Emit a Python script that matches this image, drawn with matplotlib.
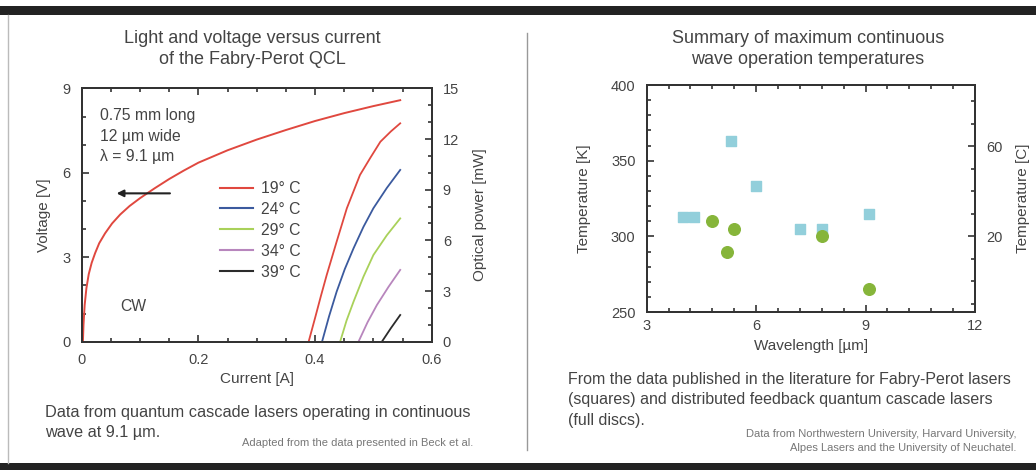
import numpy as np
import matplotlib.pyplot as plt
from matplotlib.lines import Line2D
from matplotlib.ticker import MultipleLocator, FuncFormatter

plt.rcParams['font.family'] = ['Liberation Sans', 'DejaVu Sans']

# --- left chart: voltage vs current (19 C) ---
current_v = [0.002, 0.003, 0.005, 0.008, 0.012, 0.017, 0.023, 0.030, 0.040, 0.052,
             0.066, 0.082, 0.100, 0.125, 0.150, 0.175, 0.200, 0.250, 0.300, 0.350,
             0.400, 0.450, 0.500, 0.546]
voltage = [0.0, 0.6, 1.3, 1.9, 2.4, 2.8, 3.15, 3.5, 3.85, 4.2,
           4.52, 4.82, 5.1, 5.45, 5.78, 6.08, 6.36, 6.8, 7.18, 7.52,
           7.84, 8.12, 8.37, 8.58]

# optical power curves, one per heat-sink temperature
temps = ['19° C', '24° C', '29° C', '34° C', '39° C']
colors = ['#e0483f', '#3b5a9e', '#a9d15a', '#b886bd', '#2b2b2b']
cur_19 = [0.389, 0.400, 0.410, 0.420, 0.437, 0.4545, 0.477, 0.495, 0.512, 0.530, 0.546]
pow_19 = [0.0, 1.4, 2.7, 3.95, 5.92, 7.9, 9.87, 10.9, 11.84, 12.45, 12.93]
cur_24 = [0.412, 0.424, 0.437, 0.451, 0.466, 0.483, 0.500, 0.523, 0.546]
pow_24 = [0.0, 1.5, 2.96, 4.3, 5.53, 6.8, 7.9, 9.1, 10.17]
cur_29 = [0.443, 0.454, 0.466, 0.483, 0.500, 0.523, 0.546]
pow_29 = [0.0, 1.25, 2.37, 3.85, 5.13, 6.3, 7.3]
cur_34 = [0.4745, 0.490, 0.506, 0.526, 0.546]
pow_34 = [0.0, 1.15, 2.17, 3.25, 4.25]
cur_39 = [0.5146, 0.530, 0.546]
pow_39 = [0.0, 0.8, 1.58]

# --- right chart: max CW temperatures ---
fp_wl = [4.0, 4.3, 5.3, 6.0, 7.2, 7.8, 9.1]
fp_T = [313, 313, 363, 333, 305, 305, 315]
dfb_wl = [4.8, 5.2, 5.4, 7.8, 9.1]
dfb_T = [310, 290, 305, 300, 265]

left_caption = ['Data from quantum cascade lasers operating in continuous',
                'wave at 9.1 µm.']
right_caption = ['From the data published in the literature for Fabry-Perot lasers',
                 '(squares) and distributed feedback quantum cascade lasers',
                 '(full discs).']
right_source = ['Data from Northwestern University, Harvard University,',
                'Alpes Lasers and the University of Neuchatel.']

txt = '#444444'
spine = '#333333'

fig = plt.figure(figsize=(10.36, 4.70), dpi=100)
fig.patch.set_facecolor('white')


def style_axes(ax):
    for s in ax.spines.values():
        s.set_color(spine)
        s.set_linewidth(1.4)
    ax.tick_params(which='both', direction='in', colors=spine, labelcolor=txt,
                   labelsize=10.5, width=1.2)
    ax.tick_params(which='major', length=5, pad=8)
    ax.tick_params(which='minor', length=3)


# Left plot
ax1 = fig.add_axes([0.0789, 0.273, 0.3378, 0.539])
ax1.plot(current_v, voltage, color=colors[0], lw=1.4)
ax1.set_xlim(0, 0.6)
ax1.set_ylim(0, 9)
ax1.xaxis.set_major_locator(MultipleLocator(0.2))
ax1.xaxis.set_minor_locator(MultipleLocator(0.05))
ax1.xaxis.set_major_formatter(FuncFormatter(lambda v, p: '%g' % round(v, 2)))
ax1.yaxis.set_major_locator(MultipleLocator(3))
ax1.yaxis.set_minor_locator(MultipleLocator(1))
ax1.tick_params(which='both', top=True)
style_axes(ax1)
ax1.set_xlabel('Current [A]', color=txt, fontsize=11, labelpad=4)
ax1.set_ylabel('Voltage [V]', color=txt, fontsize=11, labelpad=8)

ax1b = ax1.twinx()
for c, p, col in zip([cur_19, cur_24, cur_29, cur_34, cur_39],
                     [pow_19, pow_24, pow_29, pow_34, pow_39], colors):
    ax1b.plot(c, p, color=col, lw=1.3)
ax1b.set_ylim(0, 15)
ax1b.yaxis.set_major_locator(MultipleLocator(3))
ax1b.yaxis.set_minor_locator(MultipleLocator(1))
style_axes(ax1b)
ax1b.set_ylabel('Optical power [mW]', color=txt, fontsize=11, labelpad=10)

ax1.annotate('', xy=(0.055, 5.27), xytext=(0.156, 5.27),
             arrowprops=dict(arrowstyle='-|>', color='#222222', lw=1.5,
                             mutation_scale=10))
ax1.text(0.031, 8.05, '0.75 mm long', color=txt, fontsize=11.3, va='center')
ax1.text(0.031, 7.29, '12 µm wide', color=txt, fontsize=11.3, va='center')
ax1.text(0.031, 6.58, 'λ = 9.1 µm', color=txt, fontsize=11.3, va='center')
ax1.text(0.066, 1.24, 'CW', color=txt, fontsize=11.3, va='center')

handles = [Line2D([0], [0], color=c, lw=1.5) for c in colors]
leg = ax1b.legend(handles, temps, loc='upper left', bbox_to_anchor=(0.355, 0.69),
                  frameon=False, fontsize=11.3, handlelength=2.1, labelspacing=0.38,
                  handletextpad=0.5)
for t in leg.get_texts():
    t.set_color(txt)

fig.text(0.244, 0.895, 'Light and voltage versus current\nof the Fabry-Perot QCL',
         ha='center', va='center', color=txt, fontsize=13, linespacing=1.32)
for i, line in enumerate(left_caption):
    fig.text(0.043, 0.123 - i * 0.043, line, ha='left', va='center', color=txt,
             fontsize=11.7)
fig.text(0.457, 0.057, 'Adapted from the data presented in Beck et al.',
         ha='right', va='center', color='#777777', fontsize=8)

# Right plot
ax2 = fig.add_axes([0.6242, 0.336, 0.3169, 0.483])
ax2.scatter(fp_wl, fp_T, marker='s', s=58, color='#92cfdb', zorder=3)
ax2.scatter(dfb_wl, dfb_T, marker='o', s=70, color='#86b53a', zorder=4)
ax2.set_xlim(3, 12)
ax2.set_ylim(250, 400)
ax2.xaxis.set_major_locator(MultipleLocator(3))
ax2.xaxis.set_minor_locator(MultipleLocator(0.6))
ax2.yaxis.set_major_locator(MultipleLocator(50))
ax2.yaxis.set_minor_locator(MultipleLocator(10))
ax2.tick_params(which='both', top=True)
style_axes(ax2)
ax2.tick_params(axis='x', which='major', pad=5)
ax2.set_xlabel('Wavelength [µm]', color=txt, fontsize=11, labelpad=4)
ax2.set_ylabel('Temperature [K]', color=txt, fontsize=11, labelpad=14)

ax2b = ax2.twinx()
ax2b.set_ylim(-13.7, 87.1)
ax2b.yaxis.set_major_locator(MultipleLocator(40))
ax2b.yaxis.set_minor_locator(MultipleLocator(10))
style_axes(ax2b)
ax2b.set_yticks([20, 60])
ax2b.set_ylabel('Temperature [C]', color=txt, fontsize=11, labelpad=10)

fig.text(0.780, 0.895, 'Summary of maximum continuous\nwave operation temperatures',
         ha='center', va='center', color=txt, fontsize=13, linespacing=1.32)
for i, line in enumerate(right_caption):
    fig.text(0.548, 0.192 - i * 0.043, line, ha='left', va='center', color=txt,
             fontsize=11.5)
for i, line in enumerate(right_source):
    fig.text(0.981, 0.077 - i * 0.03, line, ha='right', va='center',
             color='#777777', fontsize=8)

# frame: dark bars top and bottom, thin left edge, divider
fig.add_artist(plt.Rectangle((0, 0.968), 1, 0.02, transform=fig.transFigure,
                             color='#222222', lw=0))
fig.add_artist(plt.Rectangle((0, 0.0), 1, 0.014, transform=fig.transFigure,
                             color='#222222', lw=0))
fig.add_artist(Line2D([0.008, 0.008], [0.014, 0.968], transform=fig.transFigure,
                      color='#bbbbbb', lw=1))
fig.add_artist(Line2D([0.5085, 0.5085], [0.043, 0.93], transform=fig.transFigure,
                      color='#999999', lw=1))

fig.savefig('out.png', dpi=100)
